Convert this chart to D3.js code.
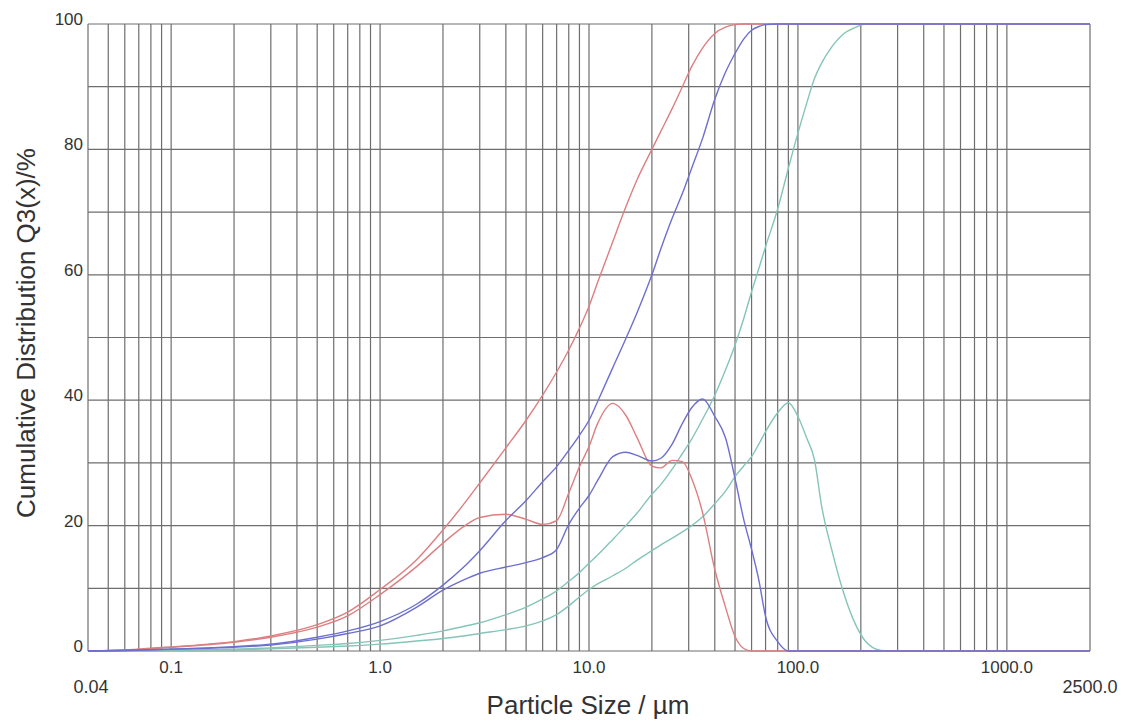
<!DOCTYPE html>
<html>
<head>
<meta charset="utf-8">
<script src="https://cdn.jsdelivr.net/npm/d3@7"></script>
<style>
  body { margin: 0; background: #fff; }
  text { font-family: "Liberation Sans", Arial, Helvetica, sans-serif; }
</style>
</head>
<body>
<div id="psd_chart"></div>
<script>
// particle sizes (µm) shared by all curves
const sizes = [0.04, 0.07, 0.1, 0.15, 0.2, 0.3, 0.5, 0.7, 1, 1.5, 2, 2.5, 3, 4, 5, 6, 7, 8, 9, 10,
  11, 13, 15, 17, 20, 22, 25, 28, 31, 35, 40, 45, 50, 55, 60, 65, 70, 80, 90, 100,
  110, 120, 130, 145, 165, 190, 210, 250, 300, 2500];

// red sample: cumulative Q3 and distribution
const redQ3 = [0, 0.3, 0.65, 1.1, 1.5, 2.4, 4.2, 6.2, 9.8, 14.6, 19.3, 23.3, 26.8, 32.4, 36.8, 40.8, 44.5, 48, 51.5, 55,
  58.8, 65.3, 70.8, 75.2, 80, 82.8, 86.5, 90, 93.2, 96.2, 98.5, 99.5, 99.9, 100, 100, 100, 100, 100, 100, 100,
  100, 100, 100, 100, 100, 100, 100, 100, 100, 100];
const redQ = [0, 0.25, 0.6, 1.0, 1.4, 2.2, 3.8, 5.6, 9.0, 13.5, 17.2, 19.8, 21.3, 21.8, 21.0, 20.2, 20.8, 25.2, 29.4, 32.6,
  36.3, 39.5, 37.6, 34, 29.5, 29.2, 30.4, 30.2, 27.5, 22, 13, 7, 2.3, 0.4, 0, 0, 0, 0, 0, 0,
  0, 0, 0, 0, 0, 0, 0, 0, 0, 0];

// blue sample
const blueQ3 = [0, 0.15, 0.3, 0.5, 0.7, 1.1, 2.2, 3.2, 4.7, 7.5, 10.5, 13.3, 16, 20.8, 24, 27, 29.4, 32, 34.4, 36.8,
  39.8, 45.2, 49.8, 54, 60, 64, 69, 73, 77, 81.8, 88, 92.3, 95.3, 97.6, 99.0, 99.6, 99.9, 100, 100, 100,
  100, 100, 100, 100, 100, 100, 100, 100, 100, 100];
const blueQ = [0, 0.12, 0.28, 0.45, 0.6, 0.95, 1.9, 2.8, 4.0, 7.0, 9.7, 11.3, 12.4, 13.4, 14.1, 14.9, 16.2, 20.2, 22.8, 24.8,
  27.2, 31, 31.7, 31.2, 30.3, 30.7, 33, 36.3, 38.8, 40.2, 37.4, 34, 27.5, 21, 16.2, 11.3, 5.5, 1.5, 0, 0,
  0, 0, 0, 0, 0, 0, 0, 0, 0, 0];

// teal sample
const tealQ3 = [0, 0.05, 0.1, 0.2, 0.3, 0.5, 0.9, 1.2, 1.7, 2.5, 3.2, 3.9, 4.5, 5.8, 7, 8.3, 9.6, 11.1, 12.5, 14,
  15.3, 17.8, 20, 22, 25, 26.5, 29, 31.5, 33.8, 37, 40.8, 44.8, 48.8, 53, 57.3, 61, 64.5, 70.5, 77, 82.6,
  87.3, 91.3, 93.8, 96.3, 98.4, 99.5, 100, 100, 100, 100];
const tealQ = [0, 0.03, 0.08, 0.15, 0.2, 0.35, 0.6, 0.8, 1.1, 1.6, 2.0, 2.4, 2.8, 3.4, 4.0, 4.8, 5.8, 7.2, 8.6, 9.8,
  10.7, 12, 13.2, 14.5, 16, 16.9, 18, 19, 20, 21.4, 23.5, 25.5, 27.8, 29.5, 31, 33, 35, 38, 39.6, 37.4,
  34, 30.5, 23, 16.2, 9.4, 4, 1.6, 0.1, 0, 0];

// axis ticks
const xLabelTicks = [0.1, 1, 10, 100, 1000];
const yLabelTicks = [0, 20, 40, 60, 80, 100];

function psd_chart() {
    const width = 1124, height = 722;
    const margin = { top: 24, right: 34, bottom: 71, left: 88 };

    const svg = d3.select("#psd_chart")
        .append("svg")
        .attr("width", width)
        .attr("height", height);

    // log x scale from 0.04 to 2500 µm
    const x = d3.scaleLog()
        .domain([0.04, 2500])
        .range([margin.left, width - margin.right]);

    const y = d3.scaleLinear()
        .domain([0, 100])
        .range([height - margin.bottom, margin.top]);

    // vertical grid: 1..9 of every decade between 0.04 and 1000
    const gridX = [];
    [0.01, 0.1, 1, 10, 100, 1000].forEach(dec => {
        for (let k = 1; k <= 9; k++) {
            const v = +(dec * k).toPrecision(3);
            if (v >= 0.04 && v <= 1000) gridX.push(v);
        }
    });
    gridX.push(2500);

    const grid = svg.append("g")
        .attr("stroke", "#6e6e6e")
        .attr("stroke-width", 1.2);

    grid.selectAll(".vline")
        .data(gridX)
        .enter().append("line")
        .attr("x1", d => x(d))
        .attr("x2", d => x(d))
        .attr("y1", y(0))
        .attr("y2", y(100));

    grid.selectAll(".hline")
        .data(d3.range(0, 101, 10))
        .enter().append("line")
        .attr("x1", x(0.04))
        .attr("x2", x(2500))
        .attr("y1", d => y(d))
        .attr("y2", d => y(d));

    // y tick labels
    svg.append("g")
        .selectAll("text")
        .data(yLabelTicks)
        .enter().append("text")
        .attr("x", margin.left - 5)
        .attr("y", d => y(d) + 1)
        .attr("text-anchor", "end")
        .attr("font-size", "17px")
        .attr("fill", "#333")
        .text(d => d);

    // x tick labels
    svg.append("g")
        .selectAll("text")
        .data(xLabelTicks)
        .enter().append("text")
        .attr("x", d => x(d))
        .attr("y", y(0) + 22)
        .attr("text-anchor", "middle")
        .attr("font-size", "17px")
        .attr("fill", "#333")
        .text(d => d3.format(".1f")(d));

    // end labels of the range
    svg.append("text")
        .attr("x", x(0.04) + 3)
        .attr("y", y(0) + 42)
        .attr("text-anchor", "middle")
        .attr("font-size", "18px")
        .attr("fill", "#333")
        .text("0.04");

    svg.append("text")
        .attr("x", x(2500))
        .attr("y", y(0) + 42)
        .attr("text-anchor", "middle")
        .attr("font-size", "18px")
        .attr("fill", "#333")
        .text("2500.0");

    // axis titles
    svg.append("text")
        .attr("x", 588)
        .attr("y", height - 8)
        .attr("text-anchor", "middle")
        .attr("font-size", "26px")
        .attr("fill", "#333")
        .text("Particle Size / µm");

    svg.append("text")
        .attr("transform", `translate(35, 333) rotate(-90)`)
        .attr("text-anchor", "middle")
        .attr("font-size", "26px")
        .attr("fill", "#333")
        .text("Cumulative Distribution Q3(x)/%");

    // curves
    const line = d3.line()
        .x(d => x(d[0]))
        .y(d => y(d[1]))
        .curve(d3.curveMonotoneX);

    const series = [
        { values: tealQ, color: "#86c4b8" },
        { values: tealQ3, color: "#86c4b8" },
        { values: redQ, color: "#dd7f80" },
        { values: redQ3, color: "#dd7f80" },
        { values: blueQ, color: "#6d6fd0" },
        { values: blueQ3, color: "#6d6fd0" }
    ];

    svg.append("g")
        .selectAll("path")
        .data(series)
        .enter().append("path")
        .attr("fill", "none")
        .attr("stroke", d => d.color)
        .attr("stroke-width", 1.4)
        .attr("d", d => line(sizes.map((s, i) => [s, d.values[i]])));
}

psd_chart();
</script>
</body>
</html>
